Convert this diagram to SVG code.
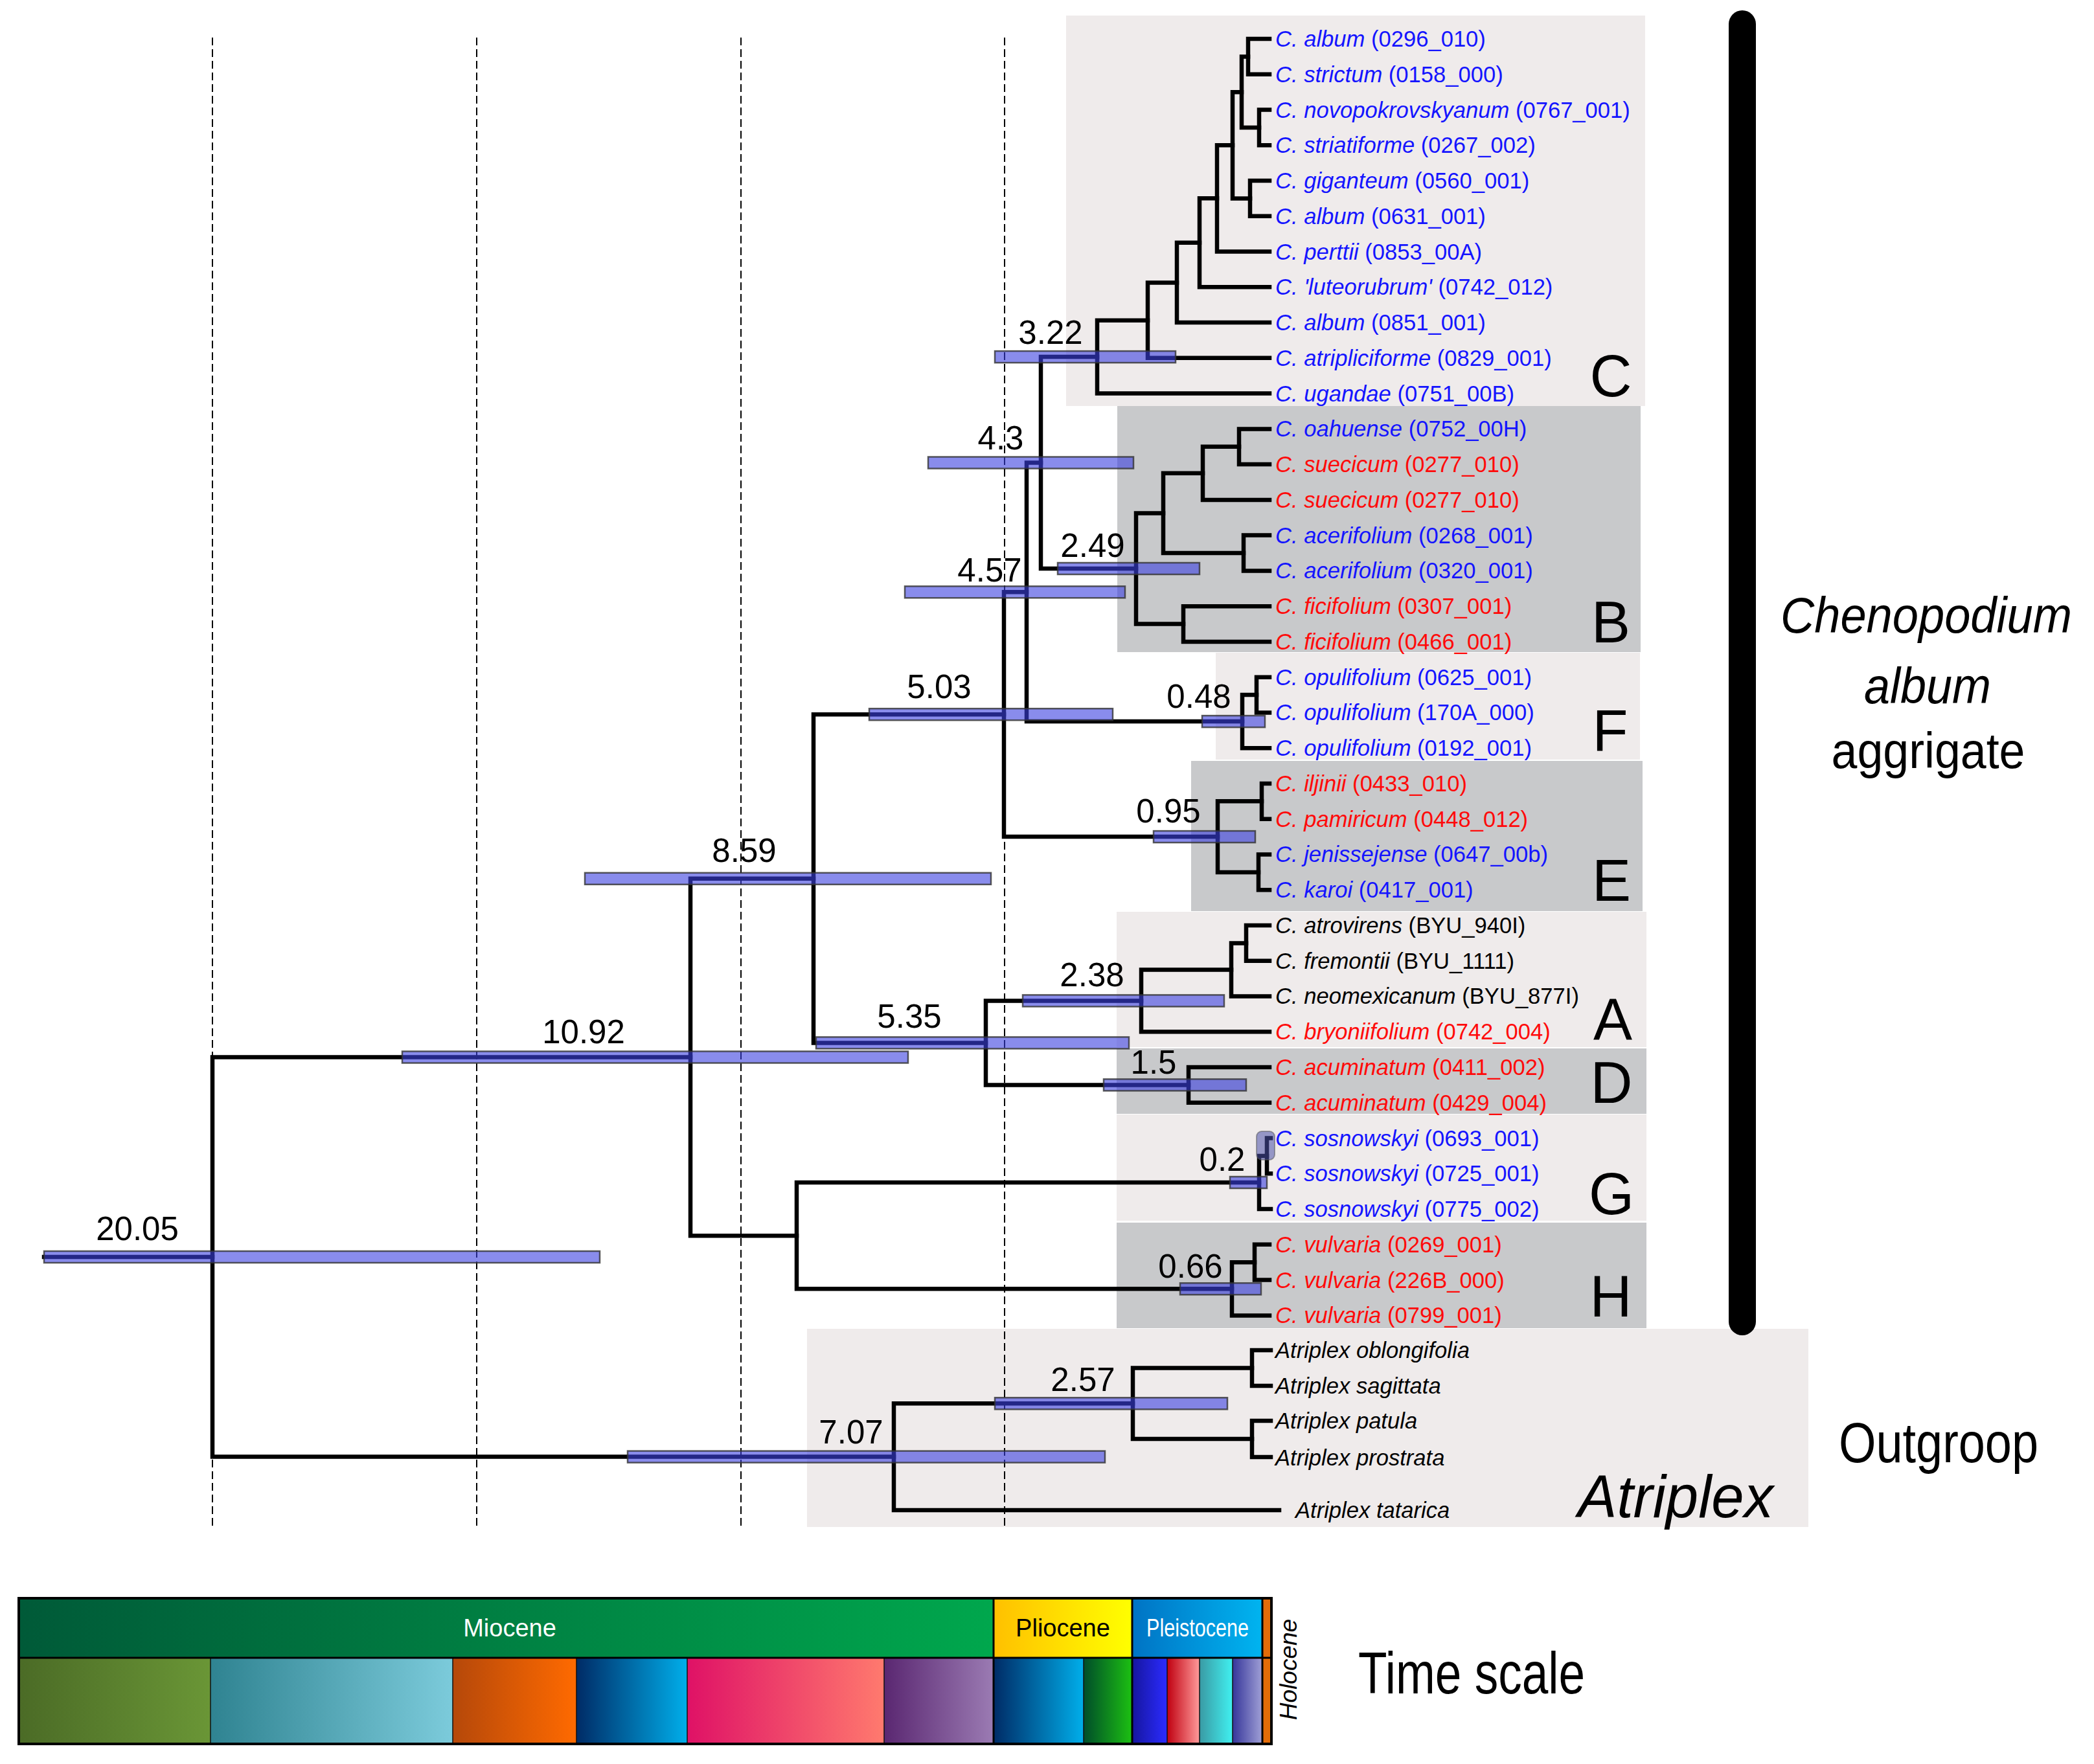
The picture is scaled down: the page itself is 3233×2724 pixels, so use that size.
<svg xmlns="http://www.w3.org/2000/svg" width="3233" height="2724" viewBox="0 0 3233 2724">
<style>
text{font-family:"Liberation Sans",Arial,sans-serif;}
.tip{font-size:34.6px;}
.i{font-style:italic;}
.blue{fill:#1414ff;}
.red{fill:#ff0a0a;}
.blk{fill:#000;}
.age{font-size:51px;fill:#000;text-anchor:middle;}
.clade{font-size:90px;fill:#000;text-anchor:middle;}
.lt{fill:#efebeb;}
.gy{fill:#c8c9cb;}
.br{fill:none;stroke:#000;stroke-width:6.5;stroke-linejoin:miter;stroke-linecap:square;}
.dash{stroke:#000;stroke-width:2;stroke-dasharray:12 6;}
.hpd{fill:#3a40e0;fill-opacity:.6;stroke:#333;stroke-opacity:.8;stroke-width:2.5;}
.sep{stroke:#111;stroke-width:1.5;}
.ep{font-size:38px;text-anchor:middle;}
</style>
<defs>
<linearGradient id="gMio"><stop offset="0" stop-color="#005a38"/><stop offset="1" stop-color="#00a74d"/></linearGradient>
<linearGradient id="gPli"><stop offset="0" stop-color="#ffc000"/><stop offset="1" stop-color="#ffff00"/></linearGradient>
<linearGradient id="gPle"><stop offset="0" stop-color="#0073c4"/><stop offset="1" stop-color="#00b4f0"/></linearGradient>
<linearGradient id="s1"><stop offset="0" stop-color="#4b6b26"/><stop offset="1" stop-color="#6a9636"/></linearGradient>
<linearGradient id="s2"><stop offset="0" stop-color="#2f8391"/><stop offset="1" stop-color="#7ccbdb"/></linearGradient>
<linearGradient id="s3"><stop offset="0" stop-color="#b5480a"/><stop offset="1" stop-color="#ff6a00"/></linearGradient>
<linearGradient id="s4"><stop offset="0" stop-color="#002b66"/><stop offset="1" stop-color="#00aeea"/></linearGradient>
<linearGradient id="s5"><stop offset="0" stop-color="#df1166"/><stop offset="1" stop-color="#ff7a6e"/></linearGradient>
<linearGradient id="s6"><stop offset="0" stop-color="#5a2771"/><stop offset="1" stop-color="#9b7bb3"/></linearGradient>
<linearGradient id="s8"><stop offset="0" stop-color="#004d2a"/><stop offset="1" stop-color="#1cbf12"/></linearGradient>
<linearGradient id="s9"><stop offset="0" stop-color="#1616a0"/><stop offset="1" stop-color="#2b2bff"/></linearGradient>
<linearGradient id="s10"><stop offset="0" stop-color="#c00010"/><stop offset="1" stop-color="#ff9a9a"/></linearGradient>
<linearGradient id="s11"><stop offset="0" stop-color="#3a9aa4"/><stop offset="1" stop-color="#40f0f0"/></linearGradient>
<linearGradient id="s12"><stop offset="0" stop-color="#35359a"/><stop offset="1" stop-color="#a0a0d6"/></linearGradient>
</defs>
<rect width="3233" height="2724" fill="#fff"/>

<g id="clade-boxes">
<rect id="box-C" class="lt" x="1646" y="24" width="894" height="603"/>
<rect id="box-B" class="gy" x="1725" y="627" width="808" height="380"/>
<rect id="box-F" class="lt" x="1877" y="1008" width="655" height="165"/>
<rect id="box-E" class="gy" x="1839" y="1175" width="697" height="232"/>
<rect id="box-A" class="lt" x="1724" y="1408" width="818" height="209"/>
<rect id="box-D" class="gy" x="1724" y="1619" width="818" height="101"/>
<rect id="box-G" class="lt" x="1724" y="1721" width="818" height="164"/>
<rect id="box-H" class="gy" x="1724" y="1888" width="818" height="163"/>
<rect id="box-Atriplex" class="lt" x="1246" y="2052" width="1546" height="306"/>
</g>

<g id="time-grid">
<line class="dash" x1="328" y1="58" x2="328" y2="2358"/>
<line class="dash" x1="736" y1="58" x2="736" y2="2358"/>
<line class="dash" x1="1144" y1="58" x2="1144" y2="2358"/>
<line class="dash" x1="1551" y1="58" x2="1551" y2="2358"/>
</g>

<g id="connectors" class="br">
<path d="M68,1941H328"/>
<path d="M1066,1632.5H328V2249.6H1380"/>
<path d="M1256,1356.8H1066V1908.2H1230"/>
<path d="M1550,1103.2H1256V1610.4H1522"/>
<path d="M1585,914.3H1550V1292.1H1880"/>
<path d="M1607,714.5H1585V1114.1H1918"/>
<path d="M1694,551.1H1607V878H1754"/>
<path d="M1772,494.7H1694V607.6H1960"/>
<path d="M1817,436.5H1772V552.8H1960"/>
<path d="M1852,374.8H1817V498.1H1960"/>
<path d="M1879,306.3H1852V443.3H1960"/>
<path d="M1903,224.3H1879V388.6H1960"/>
<path d="M1917,142.2H1903V306.4H1930"/>
<path d="M1927,87.4H1917V196.9H1944"/>
<path d="M1960,60H1927V114.8H1960"/>
<path d="M1960,169.5H1944V224.3H1960"/>
<path d="M1960,279H1930V333.8H1960"/>
<path d="M1796,792.4H1754V963.5H1827"/>
<path d="M1857,730.8H1796V854H1920"/>
<path d="M1913,689.8H1857V771.9H1960"/>
<path d="M1960,662.4H1913V717.1H1960"/>
<path d="M1960,826.6H1920V881.4H1960"/>
<path d="M1960,936.2H1827V990.9H1960"/>
<path d="M1940,1073H1918V1155.2H1960"/>
<path d="M1960,1045.7H1940V1100.4H1960"/>
<path d="M1948,1237.3H1880V1346.9H1943"/>
<path d="M1960,1210H1948V1264.7H1960"/>
<path d="M1960,1319.5H1943V1374.2H1960"/>
<path d="M1762,1545.4H1522V1675.4H1835"/>
<path d="M1901,1497.5H1762V1593.3H1960"/>
<path d="M1924,1456.4H1901V1538.5H1960"/>
<path d="M1960,1429H1924V1483.8H1960"/>
<path d="M1960,1648H1835V1702.8H1960"/>
<path d="M1944,1826H1230V1990.3H1902"/>
<path d="M1956,1785H1944V1867.1H1962"/>
<path d="M1962,1757.6H1956V1812.3H1962"/>
<path d="M1937,1949.2H1902V2031.4H1960"/>
<path d="M1960,1921.8H1937V1976.6H1960"/>
<path d="M1749,2167.3H1380V2332H1975"/>
<path d="M1933,2112.5H1749V2222H1933"/>
<path d="M1962,2085H1933V2140H1962"/>
<path d="M1962,2194H1933V2250H1962"/>
</g>

<g id="node-20.05"><rect class="hpd" x="68" y="1932" width="858" height="18"/><text class="age" x="212" y="1915">20.05</text></g>
<g id="node-10.92"><rect class="hpd" x="621" y="1623.5" width="781" height="18"/><text class="age" x="901" y="1611">10.92</text></g>
<g id="node-8.59"><rect class="hpd" x="903" y="1347.8" width="627" height="18"/><text class="age" x="1149" y="1331">8.59</text></g>
<g id="node-7.07"><rect class="hpd" x="969" y="2240.6" width="737" height="18"/><text class="age" x="1314" y="2229">7.07</text></g>
<g id="node-5.35"><rect class="hpd" x="1260" y="1601.4" width="483" height="18"/><text class="age" x="1404" y="1587">5.35</text></g>
<g id="node-5.03"><rect class="hpd" x="1342" y="1094.2" width="376" height="18"/><text class="age" x="1450" y="1078">5.03</text></g>
<g id="node-4.57"><rect class="hpd" x="1397" y="905.3" width="340" height="18"/><text class="age" x="1528" y="898">4.57</text></g>
<g id="node-4.3"><rect class="hpd" x="1433" y="705.5" width="317" height="18"/><text class="age" x="1545" y="694">4.3</text></g>
<g id="node-3.22"><rect class="hpd" x="1536" y="542.1" width="279" height="18"/><text class="age" x="1622" y="531">3.22</text></g>
<g id="node-2.57"><rect class="hpd" x="1536" y="2158.3" width="359" height="18"/><text class="age" x="1672" y="2148">2.57</text></g>
<g id="node-2.49"><rect class="hpd" x="1633" y="869" width="219" height="18"/><text class="age" x="1687" y="860">2.49</text></g>
<g id="node-2.38"><rect class="hpd" x="1579" y="1536.4" width="311" height="18"/><text class="age" x="1686" y="1523">2.38</text></g>
<g id="node-1.5"><rect class="hpd" x="1704" y="1666.4" width="220" height="18"/><text class="age" x="1781" y="1658">1.5</text></g>
<g id="node-0.95"><rect class="hpd" x="1781" y="1283.1" width="157" height="18"/><text class="age" x="1804" y="1270">0.95</text></g>
<g id="node-0.66"><rect class="hpd" x="1822" y="1981.3" width="125" height="18"/><text class="age" x="1838" y="1973">0.66</text></g>
<g id="node-0.48"><rect class="hpd" x="1856" y="1105.1" width="97" height="18"/><text class="age" x="1851" y="1093">0.48</text></g>
<g id="node-0.2"><rect class="hpd" x="1899" y="1817" width="57" height="18"/><text class="age" x="1887" y="1808">0.2</text></g>
<g id="node-sosn"><rect x="1940" y="1747" width="28" height="44" rx="8" fill="#4a50a8" fill-opacity=".55" stroke="#555" stroke-opacity=".5" stroke-width="2"/></g>

<g id="tips" class="tip">
<g id="t0"><text class="blue" x="1969" y="72"><tspan class="i">C. album</tspan> (0296_010)</text></g>
<g id="t1"><text class="blue" x="1969" y="127"><tspan class="i">C. strictum</tspan> (0158_000)</text></g>
<g id="t2"><text class="blue" x="1969" y="182"><tspan class="i">C. novopokrovskyanum</tspan> (0767_001)</text></g>
<g id="t3"><text class="blue" x="1969" y="236"><tspan class="i">C. striatiforme</tspan> (0267_002)</text></g>
<g id="t4"><text class="blue" x="1969" y="291"><tspan class="i">C. giganteum</tspan> (0560_001)</text></g>
<g id="t5"><text class="blue" x="1969" y="346"><tspan class="i">C. album</tspan> (0631_001)</text></g>
<g id="t6"><text class="blue" x="1969" y="401"><tspan class="i">C. perttii</tspan> (0853_00A)</text></g>
<g id="t7"><text class="blue" x="1969" y="455"><tspan class="i">C. 'luteorubrum'</tspan> (0742_012)</text></g>
<g id="t8"><text class="blue" x="1969" y="510"><tspan class="i">C. album</tspan> (0851_001)</text></g>
<g id="t9"><text class="blue" x="1969" y="565"><tspan class="i">C. atripliciforme</tspan> (0829_001)</text></g>
<g id="t10"><text class="blue" x="1969" y="620"><tspan class="i">C. ugandae</tspan> (0751_00B)</text></g>
<g id="t11"><text class="blue" x="1969" y="674"><tspan class="i">C. oahuense</tspan> (0752_00H)</text></g>
<g id="t12"><text class="red" x="1969" y="729"><tspan class="i">C. suecicum</tspan> (0277_010)</text></g>
<g id="t13"><text class="red" x="1969" y="784"><tspan class="i">C. suecicum</tspan> (0277_010)</text></g>
<g id="t14"><text class="blue" x="1969" y="839"><tspan class="i">C. acerifolium</tspan> (0268_001)</text></g>
<g id="t15"><text class="blue" x="1969" y="893"><tspan class="i">C. acerifolium</tspan> (0320_001)</text></g>
<g id="t16"><text class="red" x="1969" y="948"><tspan class="i">C. ficifolium</tspan> (0307_001)</text></g>
<g id="t17"><text class="red" x="1969" y="1003"><tspan class="i">C. ficifolium</tspan> (0466_001)</text></g>
<g id="t18"><text class="blue" x="1969" y="1058"><tspan class="i">C. opulifolium</tspan> (0625_001)</text></g>
<g id="t19"><text class="blue" x="1969" y="1112"><tspan class="i">C. opulifolium</tspan> (170A_000)</text></g>
<g id="t20"><text class="blue" x="1969" y="1167"><tspan class="i">C. opulifolium</tspan> (0192_001)</text></g>
<g id="t21"><text class="red" x="1969" y="1222"><tspan class="i">C. iljinii</tspan> (0433_010)</text></g>
<g id="t22"><text class="red" x="1969" y="1277"><tspan class="i">C. pamiricum</tspan> (0448_012)</text></g>
<g id="t23"><text class="blue" x="1969" y="1331"><tspan class="i">C. jenissejense</tspan> (0647_00b)</text></g>
<g id="t24"><text class="blue" x="1969" y="1386"><tspan class="i">C. karoi</tspan> (0417_001)</text></g>
<g id="t25"><text class="blk" x="1969" y="1441"><tspan class="i">C. atrovirens</tspan> (BYU_940I)</text></g>
<g id="t26"><text class="blk" x="1969" y="1496"><tspan class="i">C. fremontii</tspan> (BYU_1111)</text></g>
<g id="t27"><text class="blk" x="1969" y="1550"><tspan class="i">C. neomexicanum</tspan> (BYU_877I)</text></g>
<g id="t28"><text class="red" x="1969" y="1605"><tspan class="i">C. bryoniifolium</tspan> (0742_004)</text></g>
<g id="t29"><text class="red" x="1969" y="1660"><tspan class="i">C. acuminatum</tspan> (0411_002)</text></g>
<g id="t30"><text class="red" x="1969" y="1715"><tspan class="i">C. acuminatum</tspan> (0429_004)</text></g>
<g id="t31"><text class="blue" x="1969" y="1770"><tspan class="i">C. sosnowskyi</tspan> (0693_001)</text></g>
<g id="t32"><text class="blue" x="1969" y="1824"><tspan class="i">C. sosnowskyi</tspan> (0725_001)</text></g>
<g id="t33"><text class="blue" x="1969" y="1879"><tspan class="i">C. sosnowskyi</tspan> (0775_002)</text></g>
<g id="t34"><text class="red" x="1969" y="1934"><tspan class="i">C. vulvaria</tspan> (0269_001)</text></g>
<g id="t35"><text class="red" x="1969" y="1989"><tspan class="i">C. vulvaria</tspan> (226B_000)</text></g>
<g id="t36"><text class="red" x="1969" y="2043"><tspan class="i">C. vulvaria</tspan> (0799_001)</text></g>
<g id="t37"><text class="blk i" x="1969" y="2097">Atriplex oblongifolia</text></g>
<g id="t38"><text class="blk i" x="1969" y="2152">Atriplex sagittata</text></g>
<g id="t39"><text class="blk i" x="1969" y="2206">Atriplex patula</text></g>
<g id="t40"><text class="blk i" x="1969" y="2263">Atriplex prostrata</text></g>
<g id="t41"><text class="blk i" x="2000" y="2344">Atriplex tatarica</text></g>
</g>

<g id="clade-letters" class="clade">
<text x="2487" y="612">C</text>
<text x="2487" y="992">B</text>
<text x="2486" y="1159">F</text>
<text x="2488" y="1391">E</text>
<text x="2490" y="1605">A</text>
<text x="2488" y="1703">D</text>
<text x="2488" y="1875">G</text>
<text x="2487" y="2033">H</text>
</g>

<g id="chenopodium-bar">
<line x1="2690" y1="37" x2="2690" y2="2041" stroke="#000" stroke-width="42" stroke-linecap="round"/>
<text x="2974" y="977" font-size="78" font-style="italic" text-anchor="middle" textLength="450" lengthAdjust="spacingAndGlyphs">Chenopodium</text>
<text x="2976" y="1086" font-size="78" font-style="italic" text-anchor="middle" textLength="196" lengthAdjust="spacingAndGlyphs">album</text>
<text x="2977" y="1186" font-size="78" text-anchor="middle" textLength="299" lengthAdjust="spacingAndGlyphs">aggrigate</text>
</g>

<g id="outgroup-label">
<text x="2839" y="2258" font-size="88" textLength="308" lengthAdjust="spacingAndGlyphs">Outgroop</text>
<text x="2436" y="2343" font-size="92" font-style="italic" textLength="302" lengthAdjust="spacingAndGlyphs">Atriplex</text>
</g>

<g id="time-scale">
<rect x="29" y="2468" width="1505" height="92" fill="url(#gMio)"/>
<rect x="1534" y="2468" width="213" height="92" fill="url(#gPli)"/>
<rect x="1747" y="2468" width="202" height="92" fill="url(#gPle)"/>
<rect x="1949" y="2468" width="14" height="225" fill="#e36c09"/>
<rect x="29" y="2560" width="296" height="133" fill="url(#s1)"/>
<rect x="325" y="2560" width="374" height="133" fill="url(#s2)"/>
<rect x="699" y="2560" width="191" height="133" fill="url(#s3)"/>
<rect x="890" y="2560" width="171" height="133" fill="url(#s4)"/>
<rect x="1061" y="2560" width="304" height="133" fill="url(#s5)"/>
<rect x="1365" y="2560" width="169" height="133" fill="url(#s6)"/>
<rect x="1534" y="2560" width="139" height="133" fill="url(#s4)"/>
<rect x="1673" y="2560" width="74" height="133" fill="url(#s8)"/>
<rect x="1749" y="2560" width="53" height="133" fill="url(#s9)"/>
<rect x="1802" y="2560" width="50" height="133" fill="url(#s10)"/>
<rect x="1852" y="2560" width="51" height="133" fill="url(#s11)"/>
<rect x="1903" y="2560" width="46" height="133" fill="url(#s12)"/>
<g class="sep">
<line x1="325" y1="2560" x2="325" y2="2693"/>
<line x1="699" y1="2560" x2="699" y2="2693"/>
<line x1="890" y1="2560" x2="890" y2="2693"/>
<line x1="1061" y1="2560" x2="1061" y2="2693"/>
<line x1="1365" y1="2560" x2="1365" y2="2693"/>
<line x1="1673" y1="2560" x2="1673" y2="2693"/>
<line x1="1802" y1="2560" x2="1802" y2="2693"/>
<line x1="1852" y1="2560" x2="1852" y2="2693"/>
<line x1="1903" y1="2560" x2="1903" y2="2693"/>
</g>
<g stroke="#000" stroke-width="3">
<line x1="1534" y1="2468" x2="1534" y2="2693"/>
<line x1="1748" y1="2468" x2="1748" y2="2693"/>
<line x1="1949" y1="2468" x2="1949" y2="2693"/>
<line x1="29" y1="2560" x2="1963" y2="2560"/>
</g>
<rect x="29" y="2468" width="1934" height="225" fill="none" stroke="#000" stroke-width="4"/>
<text class="ep" x="787" y="2527" fill="#fff">Miocene</text>
<text class="ep" x="1641" y="2527" fill="#000">Pliocene</text>
<text class="ep" x="1849" y="2527" fill="#fff" textLength="158" lengthAdjust="spacingAndGlyphs">Pleistocene</text>
<text transform="translate(2002,2578) rotate(-90)" font-size="37" font-style="italic" text-anchor="middle">Holocene</text>
<text x="2097" y="2615" font-size="90" textLength="350" lengthAdjust="spacingAndGlyphs">Time scale</text>
</g>
</svg>
